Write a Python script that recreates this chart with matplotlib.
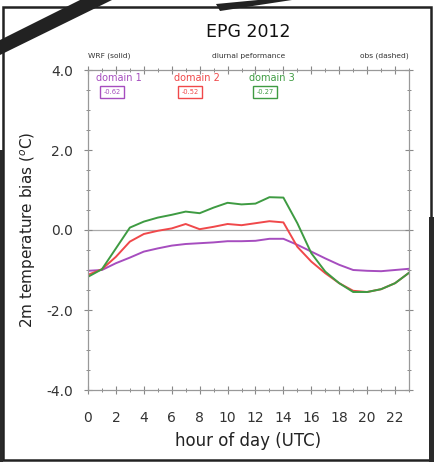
import numpy as np
import matplotlib.pyplot as plt
from matplotlib.patches import Polygon, Rectangle
from matplotlib.ticker import MultipleLocator

# data
hours = list(range(24))
domain1 = [-1.02, -1.00, -0.83, -0.69, -0.54, -0.46, -0.39, -0.35, -0.33, -0.31, -0.28, -0.28,
           -0.27, -0.22, -0.22, -0.37, -0.54, -0.71, -0.87, -1.00, -1.02, -1.03, -1.00, -0.97]
domain2 = [-1.12, -0.98, -0.67, -0.29, -0.10, -0.02, 0.04, 0.15, 0.02, 0.08, 0.15, 0.12,
           0.17, 0.22, 0.19, -0.42, -0.79, -1.08, -1.33, -1.52, -1.55, -1.48, -1.33, -1.07]
domain3 = [-1.17, -0.98, -0.46, 0.06, 0.21, 0.31, 0.38, 0.46, 0.42, 0.56, 0.68, 0.64,
           0.66, 0.82, 0.81, 0.17, -0.58, -1.04, -1.33, -1.55, -1.55, -1.48, -1.33, -1.07]
names = ['domain 1', 'domain 2', 'domain 3']
means = ['-0.62', '-0.52', '-0.27']
colors = ['#a64dbf', '#f0484a', '#3e9b42']

W, H = 434, 462
fig = plt.figure(figsize=(W / 100, H / 100), dpi=100)
fig.patch.set_facecolor('white')

def fx(x):
    return x / W

def fy(y):
    return 1 - y / H

ax = fig.add_axes([fx(88), fy(390), fx(409) - fx(88), fy(70) - fy(390)])
for vals, c in zip([domain1, domain2, domain3], colors):
    ax.plot(hours, vals, color=c, lw=1.4)
ax.axhline(0, color='#aaaaaa', lw=0.9, zorder=0)

ax.set_xlim(0, 23)
ax.set_ylim(-4, 4)
ax.set_xticks(range(0, 23, 2))
ax.xaxis.set_minor_locator(MultipleLocator(1))
ax.set_yticks([-4, -2, 0, 2, 4])
ax.set_yticklabels(['-4.0', '-2.0', '0.0', '2.0', '4.0'])
ax.yaxis.set_minor_locator(MultipleLocator(0.5))
ax.tick_params(which='both', direction='inout', top=True, right=True, color='#888888',
               labelsize=10, labelcolor='#333333')
ax.tick_params(which='major', length=6, width=0.8)
ax.tick_params(which='minor', length=3, width=0.7)
ax.tick_params(axis='x', pad=12)
ax.tick_params(axis='y', pad=8)
for s in ax.spines.values():
    s.set_color('#999999')
    s.set_linewidth(0.9)

ax.set_xlabel('hour of day (UTC)', fontsize=12, color='#222222', labelpad=5)
ax.set_ylabel('2m temperature bias ($^{o}$C)', fontsize=11, color='#222222', labelpad=6)

fig.text(fx(248), fy(32), 'EPG 2012', ha='center', va='center', fontsize=12.5, color='#111111')
fig.text(fx(88), fy(56), 'WRF (solid)', ha='left', va='center', fontsize=5.4, color='#333333')
fig.text(fx(249), fy(56), 'diurnal peformance', ha='center', va='center', fontsize=5.4, color='#333333')
fig.text(fx(409), fy(56), 'obs (dashed)', ha='right', va='center', fontsize=5.4, color='#333333')

# legend labels and mean boxes
label_x = [119, 197, 272]
for lx, name, m, c in zip(label_x, names, means, colors):
    fig.text(fx(lx), fy(78), name, ha='center', va='center', fontsize=7, color=c)
    fig.text(fx(lx - 7), fy(92), m, ha='center', va='center', fontsize=4.8, color=c,
             bbox=dict(boxstyle='square,pad=0.45', fc='white', ec=c, lw=1.0))

# photo frame artefacts
fig.add_artist(Rectangle((fx(3), fy(460)), fx(431) - fx(3), fy(7) - fy(460),
                         transform=fig.transFigure, fill=False, ec='#222222', lw=1.8))
fig.add_artist(Rectangle((fx(429), 0), fx(434) - fx(429), fy(217),
                         transform=fig.transFigure, fc='#2a2a2a', ec='none'))
fig.add_artist(Rectangle((0, 0), fx(3), fy(150),
                         transform=fig.transFigure, fc='#2a2a2a', ec='none'))
bar = [(0, 40), (80, 0), (112, 0), (0, 55)]
fig.add_artist(Polygon([(fx(a), fy(b)) for a, b in bar], closed=True,
                       transform=fig.transFigure, fc='#222222', ec='none'))
bar2 = [(216, 4), (220, 11), (292, 0), (258, 0)]
fig.add_artist(Polygon([(fx(a), fy(b)) for a, b in bar2], closed=True,
                       transform=fig.transFigure, fc='#222222', ec='none'))

fig.savefig('out.png', dpi=100)
